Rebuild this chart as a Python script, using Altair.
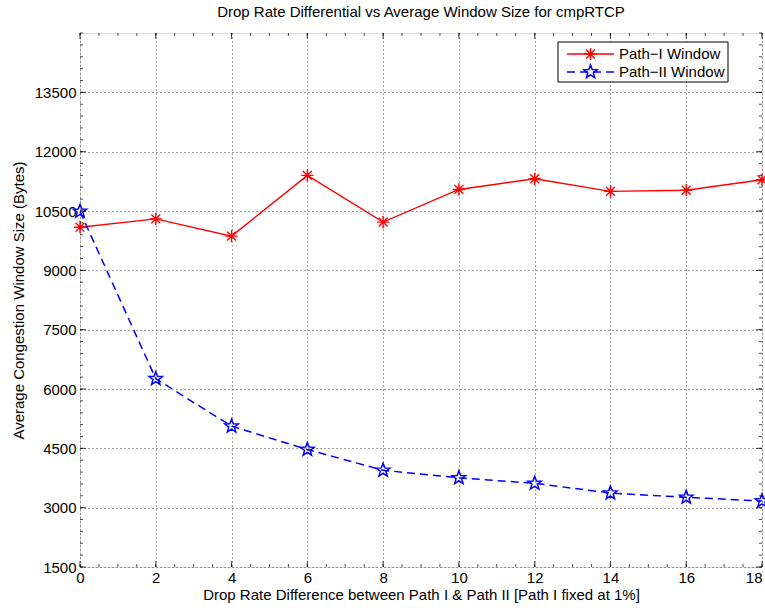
import math
import altair as alt
import pandas as pd
import numpy as np

# ---- data ----
drop_diff = [0, 2, 4, 6, 8, 10, 12, 14, 16, 18]
path1_window = [10090, 10300, 9865, 11400, 10220, 11045, 11315, 10995, 11025, 11290]
path2_window = [10490, 6260, 5060, 4470, 3945, 3755, 3615, 3370, 3262, 3168]
series_names = ["Path\u2212I Window", "Path\u2212II Window"]
x_ticks = [0, 2, 4, 6, 8, 10, 12, 14, 16, 18]
y_ticks = [1500, 3000, 4500, 6000, 7500, 9000, 10500, 12000, 13500]

W, H = 682, 534
FONT = "Liberation Sans"
FS = 15

df1 = pd.DataFrame({"x": drop_diff, "y": path1_window})
df2 = pd.DataFrame({"x": drop_diff, "y": path2_window})

xs = alt.Scale(domain=[0, 18], nice=False, zero=False)
ys = alt.Scale(domain=[1500, 15000], nice=False, zero=False)

# marker shapes (unit box [-1,1])
asterisk = "M-1,0L1,0M0,-1L0,1M-0.72,-0.72L0.72,0.72M-0.72,0.72L0.72,-0.72"
pts = []
for k in range(10):
    a = -math.pi / 2 + k * math.pi / 5
    r = 1.0 if k % 2 == 0 else 0.42
    pts.append(f"{r*math.cos(a):.3f},{r*math.sin(a):.3f}")
star = "M" + "L".join(pts) + "Z"

RED = "#ff0000"
BLUE = "#0000ff"

xaxis = alt.Axis(values=x_ticks, format="d", ticks=False, domain=False, labelFlush=False,
                 labelAlign=alt.condition("datum.value == 18", alt.value("right"), alt.value("center")),
                 grid=True, gridDash=[1, 3], gridColor="#444", gridWidth=1,
                 labelFontSize=FS, labelFont=FONT, labelColor="black", labelPadding=3,
                 title="Drop Rate Difference between Path I & Path II [Path I fixed at 1%]",
                 titleFont=FONT, titleFontSize=FS, titleFontWeight="normal",
                 titleColor="black", titlePadding=2)
yaxis = alt.Axis(values=y_ticks, format="d", ticks=False, domain=False, labelFlush=False,
                 grid=True, gridDash=[1, 3], gridColor="#444", gridWidth=1,
                 labelFontSize=FS, labelFont=FONT, labelColor="black", labelPadding=4,
                 title="Average Congestion Window Size (Bytes)",
                 titleFont=FONT, titleFontSize=FS, titleFontWeight="normal",
                 titleColor="black", titlePadding=8)

base1 = alt.Chart(df1)
base2 = alt.Chart(df2)

line1 = base1.mark_line(color=RED, strokeWidth=1.4).encode(
    x=alt.X("x:Q", scale=xs, axis=xaxis), y=alt.Y("y:Q", scale=ys, axis=yaxis))
pt1 = base1.mark_point(shape=asterisk, size=150, filled=False, color=RED,
                       strokeWidth=1.4, opacity=1).encode(
    x=alt.X("x:Q", scale=xs), y=alt.Y("y:Q", scale=ys))
line2 = base2.mark_line(color=BLUE, strokeWidth=1.5, strokeDash=[8, 5]).encode(
    x=alt.X("x:Q", scale=xs), y=alt.Y("y:Q", scale=ys))
pt2 = base2.mark_point(shape=star, size=200, filled=False, color=BLUE,
                       strokeWidth=1.5, opacity=1).encode(
    x=alt.X("x:Q", scale=xs), y=alt.Y("y:Q", scale=ys))

# inward ticks (MATLAB box style)
xt = pd.DataFrame({"v": x_ticks})
yt = pd.DataFrame({"v": y_ticks})
xm = pd.DataFrame({"v": np.round(np.arange(0, 18.001, 0.5), 3)})
ym = pd.DataFrame({"v": np.arange(1500, 15001, 300)})

tick_layers = []
for d, ln in ((xt, 6), (xm, 3)):
    for yy in (H - ln / 2, ln / 2):
        tick_layers.append(alt.Chart(d).mark_tick(orient="vertical", size=ln, thickness=1, color="black").encode(
            x=alt.X("v:Q", scale=xs), y=alt.value(yy)))
for d, ln in ((yt, 6), (ym, 3)):
    for xx in (ln / 2, W - ln / 2):
        tick_layers.append(alt.Chart(d).mark_tick(orient="horizontal", size=ln, thickness=1, color="black").encode(
            y=alt.Y("v:Q", scale=ys), x=alt.value(xx)))

# legend
one = pd.DataFrame({"a": [0]})
leg = [alt.Chart(one).mark_rect(fill="white", stroke="black", strokeWidth=1).encode(
    x=alt.value(478), x2=alt.value(648), y=alt.value(9), y2=alt.value(49))]
styles = [(RED, None, asterisk, 150, 1.4), (BLUE, [8, 5], star, 200, 1.5)]
for i, name in enumerate(series_names):
    col, dash, shp, sz, sw = styles[i]
    yy = 21 + i * 18
    rk = dict(color=col, strokeWidth=sw)
    if dash:
        rk["strokeDash"] = dash
    leg.append(alt.Chart(one).mark_rule(**rk).encode(
        x=alt.value(487), x2=alt.value(534), y=alt.value(yy)))
    leg.append(alt.Chart(one).mark_point(shape=shp, size=sz, filled=False, color=col,
                                         strokeWidth=sw, opacity=1).encode(
        x=alt.value(510.5), y=alt.value(yy)))
    leg.append(alt.Chart(pd.DataFrame({"t": [name]})).mark_text(
        align="left", baseline="middle", font=FONT, fontSize=FS, color="black").encode(
        x=alt.value(539), y=alt.value(yy), text="t:N"))

chart = alt.layer(line1, line2, pt1, pt2, *tick_layers, *leg).properties(
    width=W, height=H,
    title=alt.TitleParams("Drop Rate Differential vs Average Window Size for cmpRTCP",
                          font=FONT, fontSize=FS, fontWeight="normal", color="black",
                          anchor="middle", offset=13),
    autosize=alt.AutoSizeParams(type="none"),
    padding={"left": 80, "top": 33, "right": 3, "bottom": 41},
).configure_view(stroke="black", strokeWidth=1).configure(background="white")

chart.save("out.html", embed_options={"renderer": "svg", "actions": False})
